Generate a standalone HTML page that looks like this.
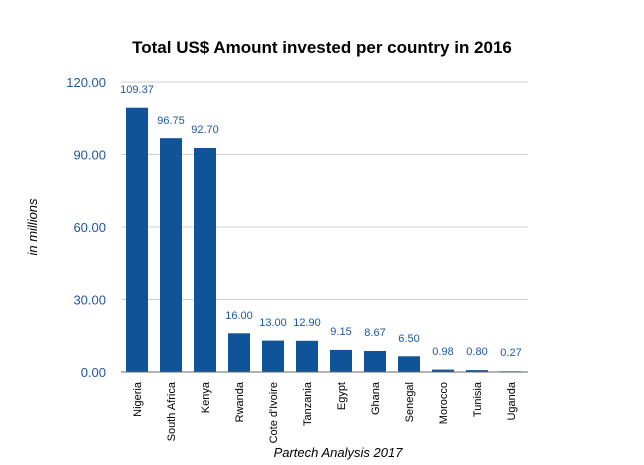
<!DOCTYPE html>
<html><head><style>body{margin:0;background:#fff}</style></head><body>
<svg width="644" height="460" xmlns="http://www.w3.org/2000/svg" font-family="Liberation Sans, sans-serif">
<rect width="644" height="460" fill="#fff"/>
<text x="322" y="53" text-anchor="middle" font-size="17" font-weight="bold" fill="#000">Total US$ Amount invested per country in 2016</text>
<g stroke="#d0d0d0" stroke-width="1">
<line x1="121" x2="528" y1="82" y2="82"/><line x1="121" x2="528" y1="154.5" y2="154.5"/>
<line x1="121" x2="528" y1="227" y2="227"/><line x1="121" x2="528" y1="299.5" y2="299.5"/>
</g>
<g fill="#1f58a0" font-size="13" text-anchor="end">
<text x="106" y="87">120.00</text><text x="106" y="159.5">90.00</text><text x="106" y="232">60.00</text><text x="106" y="304.5">30.00</text><text x="106" y="377">0.00</text>
</g>
<text transform="translate(37,227) rotate(-90)" text-anchor="middle" font-size="13" font-style="italic" fill="#000">in millions</text>
<g fill="#0f5399">
<rect x="126" y="107.7" width="22" height="264.3"/>
<rect x="160" y="138.2" width="22" height="233.8"/>
<rect x="194" y="148" width="22" height="224"/>
<rect x="228" y="333.3" width="22" height="38.7"/>
<rect x="262" y="340.6" width="22" height="31.4"/>
<rect x="296" y="340.8" width="22" height="31.2"/>
<rect x="330" y="349.9" width="22" height="22.1"/>
<rect x="364" y="351" width="22" height="21"/>
<rect x="398" y="356.3" width="22" height="15.7"/>
<rect x="432" y="369.6" width="22" height="2.4"/>
<rect x="466" y="370.1" width="22" height="1.9"/>
<rect x="500" y="371.3" width="22" height="0.7"/>
</g>
<line x1="121" x2="528" y1="372" y2="372" stroke="#666" stroke-width="1"/>
<g fill="#1f58a0" font-size="11" text-anchor="middle">
<text x="137" y="93">109.37</text><text x="171" y="124">96.75</text><text x="205" y="133">92.70</text>
<text x="239" y="319">16.00</text><text x="273" y="326">13.00</text><text x="307" y="326">12.90</text>
<text x="341" y="335">9.15</text><text x="375" y="336">8.67</text><text x="409" y="342">6.50</text>
<text x="443" y="355">0.98</text><text x="477" y="355">0.80</text><text x="511" y="356">0.27</text>
</g>
<g fill="#000" font-size="11" text-anchor="end">
<text transform="translate(141,382) rotate(-90)">Nigeria</text>
<text transform="translate(175,382) rotate(-90)">South Africa</text>
<text transform="translate(209,382) rotate(-90)">Kenya</text>
<text transform="translate(243,382) rotate(-90)">Rwanda</text>
<text transform="translate(277,382) rotate(-90)">Cote d'Ivoire</text>
<text transform="translate(311,382) rotate(-90)">Tanzania</text>
<text transform="translate(345,382) rotate(-90)">Egypt</text>
<text transform="translate(379,382) rotate(-90)">Ghana</text>
<text transform="translate(413,382) rotate(-90)">Senegal</text>
<text transform="translate(447,382) rotate(-90)">Morocco</text>
<text transform="translate(481,382) rotate(-90)">Tunisia</text>
<text transform="translate(515,382) rotate(-90)">Uganda</text>
</g>
<text x="338" y="457" text-anchor="middle" font-size="13" font-style="italic" fill="#000">Partech Analysis 2017</text>
</svg>
</body></html>
